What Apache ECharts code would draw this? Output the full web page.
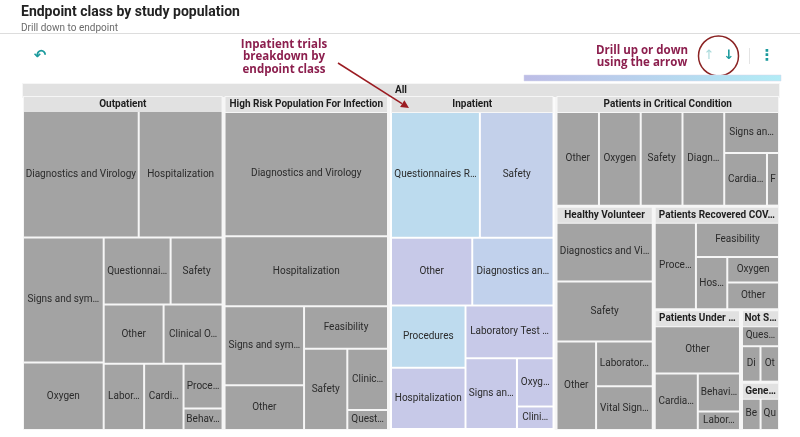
<!DOCTYPE html>
<html>
<head>
<meta charset="utf-8">
<title>Endpoint class by study population</title>
<script src="https://cdn.jsdelivr.net/npm/echarts@6.0.0/dist/echarts.min.js"></script>
<style>
  html, body { margin: 0; padding: 0; background: #ffffff; }
  #chart { width: 800px; height: 437px; }
</style>
</head>
<body>
<div id="chart"></div>
<script>
// study populations (top level under "All")
const groupNames = ['Outpatient', 'High Risk Population For Infection', 'Inpatient',
  'Patients in Critical Condition', 'Healthy Volunteer', 'Patients Recovered COVID-19',
  'Patients Under Other Treatment', 'Not Specified', 'General Population'];

// endpoint classes per population (values = trials, read from the tile areas)
const outpatientClasses = ['Diagnostics and Virology', 'Hospitalization', 'Signs and symptoms', 'Oxygen',
  'Questionnaires Rating Scales', 'Safety', 'Other', 'Clinical Outcomes', 'Laboratory Test Results',
  'Cardiac Function', 'Procedures', 'Behavioral'];
const outpatientValues = [1538, 1114, 1061, 573, 473, 367, 372, 366, 282, 275, 184, 88];

const highRiskClasses = ['Diagnostics and Virology', 'Hospitalization', 'Signs and symptoms', 'Other',
  'Feasibility', 'Safety', 'Clinical Outcomes', 'Questionnaires Rating Scales'];
const highRiskValues = [2155, 1209, 662, 374, 376, 370, 262, 86];

const inpatientClasses = ['Questionnaires Rating Scales', 'Safety', 'Other', 'Diagnostics and Virology',
  'Procedures', 'Hospitalization', 'Laboratory Test Results', 'Signs and symptoms', 'Oxygen', 'Clinical Outcomes'];
const inpatientValues = [1206, 999, 589, 589, 496, 488, 495, 390, 189, 88];

const criticalClasses = ['Other', 'Oxygen', 'Safety', 'Diagnostics and Virology', 'Signs and symptoms',
  'Cardiac Function', 'Feasibility'];
const criticalValues = [470, 462, 462, 462, 269, 263, 74];

const healthyClasses = ['Diagnostics and Virology', 'Safety', 'Other', 'Laboratory Test Results',
  'Vital Signs and Physical Exam'];
const healthyValues = [628, 628, 382, 277, 270];

const recoveredClasses = ['Procedures', 'Feasibility', 'Hospitalization', 'Oxygen', 'Other'];
const recoveredValues = [430, 350, 195, 157, 165];

const underOtherClasses = ['Other', 'Cardiac Function', 'Behavioral', 'Laboratory Test Results'];
const underOtherValues = [482, 284, 187, 91];

const notSpecifiedClasses = ['Questionnaires Rating Scales', 'Diagnostics and Virology', 'Other'];
const notSpecifiedValues = [104, 88, 88];

const generalClasses = ['Behavioral', 'Questionnaires Rating Scales'];
const generalValues = [94, 93];

// colours of the selected (Inpatient) tiles
const inpatientColors = ['#bcdbee', '#c3d0ea', '#c7c9e8', '#c1d1ec', '#bedbee',
  '#c7c9e8', '#c7c9e8', '#c7c9e8', '#c7c9e8', '#c7c9e8'];

const groupClasses = [outpatientClasses, highRiskClasses, inpatientClasses, criticalClasses, healthyClasses,
  recoveredClasses, underOtherClasses, notSpecifiedClasses, generalClasses];
const groupValues = [outpatientValues, highRiskValues, inpatientValues, criticalValues, healthyValues,
  recoveredValues, underOtherValues, notSpecifiedValues, generalValues];

const treeData = [{
  name: 'All',
  children: groupNames.map(function (g, i) {
    const node = {
      name: g,
      children: groupClasses[i].map(function (c, j) {
        const leaf = { name: c, value: groupValues[i][j] };
        if (g === 'Inpatient') leaf.itemStyle = { color: inpatientColors[j] };
        return leaf;
      })
    };
    if (g === 'Inpatient') node.itemStyle = { borderColor: '#ffffff', borderWidth: 2 };
    return node;
  })
}];

var myChart = echarts.init(document.getElementById('chart'));

const maroon = '#8c1f4e';
const teal = '#1b9a9d';
const arrowRed = '#9b1c22';

var option = {
  animation: false,
  textStyle: { fontFamily: 'Roboto' },
  title: {
    text: 'Endpoint class by study population',
    subtext: 'Drill down to endpoint',
    left: 16,
    top: 0,
    itemGap: 4,
    textStyle: { fontSize: 14, fontWeight: 'bold', color: '#222222', fontFamily: 'Roboto' },
    subtextStyle: { fontSize: 10, color: '#6b6b6b', fontFamily: 'Roboto' }
  },
  graphic: [
    { type: 'line', z: 100, shape: { x1: 0, y1: 33.5, x2: 800, y2: 33.5 }, style: { stroke: '#dddddd', lineWidth: 1 } },
    { type: 'text', z: 100, x: 40, y: 56, style: { text: '↶', fill: teal, fontSize: 15, fontWeight: 'bold',
      fontFamily: 'DejaVu Sans', align: 'center', verticalAlign: 'middle' } },
    { type: 'text', z: 100, x: 284, y: 57, style: { text: 'Inpatient trials\nbreakdown by\nendpoint class', fill: maroon,
      fontSize: 11.5, fontWeight: 'bold', fontFamily: 'Open Sans', lineHeight: 12.5,
      align: 'center', verticalAlign: 'middle' } },
    { type: 'line', z: 100, shape: { x1: 338, y1: 63, x2: 402, y2: 103.7 }, style: { stroke: arrowRed, lineWidth: 1.5 } },
    { type: 'polygon', z: 100, shape: { points: [[409, 108], [400.1, 107.1], [404.4, 100.3]] }, style: { fill: arrowRed } },
    { type: 'text', z: 100, x: 642, y: 56.5, style: { text: 'Drill up or down\nusing the arrow', fill: maroon,
      fontSize: 11.5, fontWeight: 'bold', fontFamily: 'Open Sans', lineHeight: 11.5,
      align: 'center', verticalAlign: 'middle' } },
    { type: 'circle', z: 100, shape: { cx: 718.5, cy: 56, r: 20 }, style: { fill: 'none', stroke: '#8b2424', lineWidth: 1.5 } },
    { type: 'text', z: 100, x: 709, y: 56, style: { text: '↑', fill: '#a9dadb', fontSize: 13, fontFamily: 'DejaVu Sans',
      align: 'center', verticalAlign: 'middle' } },
    { type: 'text', z: 100, x: 729, y: 56, style: { text: '↓', fill: teal, fontSize: 13, fontWeight: 'bold',
      fontFamily: 'DejaVu Sans', align: 'center', verticalAlign: 'middle' } },
    { type: 'line', z: 100, shape: { x1: 749.5, y1: 48, x2: 749.5, y2: 64 }, style: { stroke: '#e4e4e4', lineWidth: 1 } },
    { type: 'text', z: 100, x: 767, y: 56, style: { text: '⋮', fill: teal, fontSize: 15, fontWeight: 'bold',
      fontFamily: 'DejaVu Sans', align: 'center', verticalAlign: 'middle' } },
    { type: 'rect', z: 100, shape: { x: 524, y: 75, width: 257, height: 6 },
      style: { fill: new echarts.graphic.LinearGradient(0, 0, 1, 0, [
        { offset: 0, color: '#bdbde6' }, { offset: 1, color: '#b2ecf6' }]), stroke: '#d6d6ea', lineWidth: 0.5 } }
  ],
  series: [{
    type: 'treemap',
    left: 23,
    top: 84,
    width: 756,
    height: 346,
    sort: false,
    squareRatio: 0.87,
    visibleMin: 0,
    roam: false,
    nodeClick: false,
    breadcrumb: { show: false },
    label: {
      show: true,
      position: 'inside',
      color: '#2b2b2b',
      fontSize: 10,
      fontFamily: 'Roboto',
      padding: [2, 1],
      overflow: 'truncate',
      ellipsis: '…'
    },
    upperLabel: {
      show: false,
      position: 'inside',
      color: '#1e1e1e',
      fontSize: 10,
      fontWeight: 'bold',
      fontFamily: 'Roboto',
      backgroundColor: '#e1e1e1',
      borderColor: '#f6f6f6',
      borderWidth: 1,
      padding: 0,
      overflow: 'truncate',
      ellipsis: '…'
    },
    itemStyle: { borderColor: '#f6f6f6' },
    levels: [
      { itemStyle: { borderWidth: 0, gapWidth: 0 }, upperLabel: { show: false } },
      { itemStyle: { borderWidth: 0, gapWidth: 2, borderColor: '#f6f6f6' }, upperLabel: { show: true, height: 13 } },
      { itemStyle: { borderWidth: 1, gapWidth: 2, borderColor: '#f6f6f6' }, upperLabel: { show: true, height: 15 } },
      { itemStyle: { borderWidth: 0, color: '#a3a3a3' } }
    ],
    data: treeData
  }]
};

myChart.setOption(option);
window.onresize = function () {
  myChart.resize();
};
</script>
</body>
</html>
